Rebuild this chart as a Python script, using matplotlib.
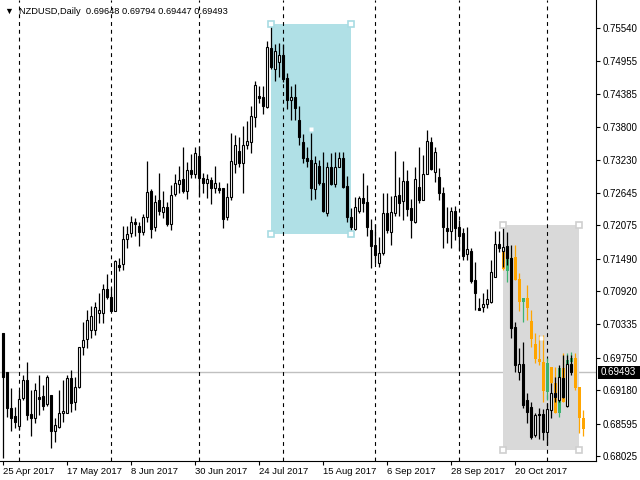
import matplotlib
matplotlib.use("Agg")
import matplotlib.pyplot as plt
import matplotlib.transforms as mtrans
from matplotlib.patches import Rectangle

plt.rcParams['font.family'] = ['Liberation Sans', 'DejaVu Sans']

# NZDUSD daily bars, bar 0 = 25 Apr 2017
o = [0.7019, 0.6950, 0.6887, 0.6873, 0.6855, 0.6904, 0.6936, 0.6876, 0.6869, 0.6906,
     0.6908, 0.6894, 0.6910, 0.6846, 0.6853, 0.6878, 0.6878, 0.6939, 0.6897, 0.6924,
     0.6994, 0.7008, 0.7024, 0.7024, 0.7054, 0.7054, 0.7096, 0.7082, 0.7057, 0.7138,
     0.7140, 0.7184, 0.7194, 0.7213, 0.7206, 0.7196, 0.7222, 0.7268, 0.7205, 0.7252,
     0.7231, 0.7240, 0.7210, 0.7263, 0.7280, 0.7289, 0.7268, 0.7305, 0.7298, 0.7329,
     0.7291, 0.7282, 0.7287, 0.7273, 0.7273, 0.7273, 0.7222, 0.7257, 0.7315, 0.7338,
     0.7317, 0.7349, 0.7354, 0.7398, 0.7435, 0.7433, 0.7415, 0.7519, 0.7482, 0.7494,
     0.7507, 0.7466, 0.7428, 0.7433, 0.7392, 0.7354, 0.7326, 0.7322, 0.7271, 0.7312,
     0.7282, 0.7229, 0.7310, 0.7280, 0.7310, 0.7326, 0.7277, 0.7222, 0.7201, 0.7233,
     0.7256, 0.7248, 0.7199, 0.7173, 0.7141, 0.7159, 0.7229, 0.7196, 0.7229, 0.7261,
     0.7250, 0.7285, 0.7238, 0.7213, 0.7275, 0.7252, 0.7298, 0.7354, 0.7301, 0.7292,
     0.7264, 0.7203, 0.7198, 0.7233, 0.7205, 0.7194, 0.7157, 0.7162, 0.7112, 0.7062,
     0.7064, 0.7069, 0.7073, 0.7117, 0.7175, 0.7162, 0.7171, 0.7150, 0.7029, 0.6950,
     0.6964, 0.6901, 0.6889, 0.6839, 0.6876, 0.6876, 0.6845, 0.6883, 0.6913, 0.6901,
     0.6939, 0.6890, 0.69648]
h = [0.7019, 0.6950, 0.6922, 0.6889, 0.6918, 0.6945, 0.6968, 0.6918, 0.6931, 0.6945,
     0.6927, 0.6945, 0.6910, 0.6869, 0.6918, 0.6936, 0.6945, 0.6954, 0.6941, 0.6994,
     0.7038, 0.7059, 0.7066, 0.7073, 0.7089, 0.7105, 0.7122, 0.7098, 0.7147, 0.7150,
     0.7206, 0.7206, 0.7224, 0.7220, 0.7213, 0.7227, 0.7320, 0.7271, 0.7261, 0.7299,
     0.7268, 0.7248, 0.7278, 0.7298, 0.7312, 0.7345, 0.7319, 0.7333, 0.7345, 0.7347,
     0.7299, 0.7298, 0.7292, 0.7312, 0.7284, 0.7273, 0.7282, 0.7370, 0.7366, 0.7363,
     0.7382, 0.7391, 0.7417, 0.7461, 0.7452, 0.7452, 0.7531, 0.7559, 0.7526, 0.7528,
     0.7526, 0.7475, 0.7452, 0.7456, 0.7417, 0.7368, 0.7345, 0.7370, 0.7329, 0.7322,
     0.7336, 0.7319, 0.7335, 0.7336, 0.7336, 0.7336, 0.7294, 0.7238, 0.7257, 0.7259,
     0.7299, 0.7278, 0.7219, 0.7210, 0.7187, 0.7264, 0.7264, 0.7259, 0.7338, 0.7292,
     0.7320, 0.7305, 0.7254, 0.7310, 0.7345, 0.7331, 0.7375, 0.7363, 0.7345, 0.7308,
     0.7275, 0.7240, 0.7240, 0.7242, 0.7217, 0.7203, 0.7205, 0.7168, 0.7143, 0.7080,
     0.7089, 0.7096, 0.7147, 0.7198, 0.7198, 0.7208, 0.7196, 0.7173, 0.7038, 0.6992,
     0.7003, 0.6913, 0.6897, 0.6878, 0.6887, 0.6885, 0.6896, 0.6931, 0.6941, 0.6962,
     0.6980, 0.6980, 0.69794]
l = [0.6799, 0.6871, 0.6846, 0.6852, 0.6848, 0.6901, 0.6866, 0.6838, 0.6860, 0.6875,
     0.6883, 0.6890, 0.6817, 0.6827, 0.6852, 0.6862, 0.6878, 0.6880, 0.6883, 0.6922,
     0.6980, 0.6992, 0.7010, 0.7015, 0.7036, 0.7036, 0.7078, 0.7057, 0.7057, 0.7127,
     0.7129, 0.7168, 0.7187, 0.7189, 0.7171, 0.7191, 0.7213, 0.7185, 0.7198, 0.7226,
     0.7220, 0.7206, 0.7199, 0.7259, 0.7264, 0.7264, 0.7254, 0.7291, 0.7291, 0.7257,
     0.7264, 0.7256, 0.7245, 0.7264, 0.7264, 0.7203, 0.7217, 0.7252, 0.7299, 0.7310,
     0.7264, 0.7342, 0.7335, 0.7380, 0.7422, 0.7403, 0.7414, 0.7482, 0.7461, 0.7468,
     0.7459, 0.7412, 0.7392, 0.7392, 0.7349, 0.7317, 0.7310, 0.7252, 0.7254, 0.7278,
     0.7231, 0.7224, 0.7278, 0.7275, 0.7310, 0.7273, 0.7213, 0.7192, 0.7199, 0.7229,
     0.7231, 0.7189, 0.7133, 0.7141, 0.7134, 0.7155, 0.7194, 0.7173, 0.7224, 0.7224,
     0.7217, 0.7224, 0.7185, 0.7212, 0.7247, 0.7252, 0.7298, 0.7305, 0.7284, 0.7252,
     0.7168, 0.7177, 0.7168, 0.7182, 0.7164, 0.7147, 0.7147, 0.7106, 0.7059, 0.7059,
     0.7055, 0.7062, 0.7071, 0.7117, 0.7161, 0.7134, 0.7138, 0.7010, 0.6950, 0.6936,
     0.6887, 0.6860, 0.6832, 0.6836, 0.6832, 0.6831, 0.6822, 0.6869, 0.6897, 0.6897,
     0.6904, 0.6889, 0.69447]
c = [0.6941, 0.6887, 0.6869, 0.6862, 0.6903, 0.6936, 0.6875, 0.6869, 0.6918, 0.6903,
     0.6890, 0.6941, 0.6846, 0.6857, 0.6878, 0.6882, 0.6939, 0.6896, 0.6924, 0.6994,
     0.7006, 0.7041, 0.7048, 0.7064, 0.7059, 0.7096, 0.7082, 0.7057, 0.7145, 0.7134,
     0.7184, 0.7192, 0.7213, 0.7210, 0.7196, 0.7222, 0.7266, 0.7201, 0.7248, 0.7233,
     0.7240, 0.7210, 0.7261, 0.7282, 0.7287, 0.7268, 0.7305, 0.7298, 0.7335, 0.7291,
     0.7282, 0.7289, 0.7273, 0.7282, 0.7270, 0.7219, 0.7257, 0.7320, 0.7349, 0.7317,
     0.7349, 0.7356, 0.7400, 0.7454, 0.7431, 0.7417, 0.7521, 0.7486, 0.7514, 0.7507,
     0.7464, 0.7428, 0.7433, 0.7414, 0.7363, 0.7326, 0.7320, 0.7273, 0.7317, 0.7282,
     0.7233, 0.7310, 0.7280, 0.7310, 0.7326, 0.7275, 0.7222, 0.7205, 0.7240, 0.7256,
     0.7247, 0.7205, 0.7171, 0.7155, 0.7159, 0.7229, 0.7199, 0.7231, 0.7259, 0.7247,
     0.7285, 0.7236, 0.7217, 0.7289, 0.7252, 0.7298, 0.7356, 0.7306, 0.7336, 0.7264,
     0.7205, 0.7198, 0.7233, 0.7203, 0.7189, 0.7154, 0.7166, 0.7110, 0.7089, 0.7059,
     0.7069, 0.7078, 0.7126, 0.7175, 0.7168, 0.7170, 0.7150, 0.7027, 0.6962, 0.6964,
     0.6892, 0.6880, 0.6836, 0.6875, 0.6875, 0.6845, 0.6885, 0.6913, 0.6906, 0.6941,
     0.6906, 0.6964, 0.69493]

# projected bars (orange = down, green = up), starting at bar 125
proj_start = 125
po = [0.7162, 0.7127, 0.7143, 0.7152, 0.7113, 0.7073, 0.7080, 0.7040, 0.6999, 0.6973,
      0.6968, 0.6915, 0.6959, 0.6931, 0.6878, 0.6957, 0.6927, 0.6968, 0.6975, 0.6924, 0.6869]
ph = [0.7170, 0.7152, 0.7152, 0.7173, 0.7124, 0.7080, 0.7103, 0.7059, 0.7019, 0.7015,
      0.7015, 0.6975, 0.6959, 0.6959, 0.6957, 0.6983, 0.6983, 0.6985, 0.6983, 0.6924, 0.6883]
pl = [0.7129, 0.7108, 0.7105, 0.7112, 0.7057, 0.7038, 0.7041, 0.6994, 0.6966, 0.6962,
      0.6897, 0.6901, 0.6927, 0.6878, 0.6871, 0.6897, 0.6924, 0.6962, 0.6918, 0.6843, 0.6838]
pc = [0.7131, 0.7152, 0.7150, 0.7112, 0.7073, 0.7080, 0.7062, 0.7008, 0.6973, 0.6968,
      0.6917, 0.6966, 0.6931, 0.6878, 0.6957, 0.6897, 0.6971, 0.6975, 0.6922, 0.6869, 0.6850]

date_labels = ['25 Apr 2017', '17 May 2017', '8 Jun 2017', '30 Jun 2017', '24 Jul 2017',
               '15 Aug 2017', '6 Sep 2017', '28 Sep 2017', '20 Oct 2017']
date_bars = [0, 16, 32, 48, 64, 80, 96, 112, 128]
month_bars = [4, 27, 49, 70, 93, 114, 136]   # first bar of each month
price_ticks = [0.75540, 0.74955, 0.74385, 0.73800, 0.73230, 0.72645, 0.72075,
               0.71490, 0.70920, 0.70335, 0.69750, 0.69180, 0.68595, 0.68025]

# rectangles drawn on the chart: bar from, bar to, price top, price bottom
blue_box = (67, 87, 0.7561, 0.7192)
gray_box = (125, 144, 0.7208, 0.6813)

fig = plt.figure(figsize=(6.4, 4.8), dpi=100)
ax = fig.add_axes([0, 19 / 480, 596 / 640, 461 / 480])
ax.set_xlim(-0.825, 148.175)
ax.set_ylim(0.67938, 0.76032)


def draw_bars(x0, o, h, l, c, up_fc, up_ec, dn_fc, dn_ec, w, z, edge=True):
    for i in range(len(o)):
        x = x0 + i
        up = c[i] >= o[i]
        ec = up_ec if up else dn_ec
        fc = up_fc if up else dn_fc
        ax.plot([x, x], [l[i], h[i]], color=ec, lw=0.9, zorder=z, solid_capstyle='butt')
        lo, hi = min(o[i], c[i]), max(o[i], c[i])
        ax.add_patch(Rectangle((x - w / 2, lo), w, hi - lo, facecolor=fc,
                               edgecolor=ec if edge else 'none', lw=0.8 if edge else 0,
                               zorder=z + 0.1))


# boxes
for box, col, hcol in [(blue_box, '#B0E0E6', '#A8DCE3'), (gray_box, '#D9D9D9', '#CFCFCF')]:
    x1, x2, top, bot = box
    ax.add_patch(Rectangle((x1, bot), x2 - x1, top - bot, facecolor=col, edgecolor='none', zorder=0.5))
    ax.plot([x1, x2, x1, x2], [top, top, bot, bot], ls='none', marker='s', ms=4.5,
            mfc='white', mec=hcol, mew=1.2, zorder=4, clip_on=False)
    ax.plot([(x1 + x2) / 2], [(top + bot) / 2], ls='none', marker='s', ms=3.5,
            mfc='white', mec='none', zorder=4)

# current price line
ax.axhline(c[-1], color='#C0C0C0', lw=1, zorder=0.4)

# month separators
for b in month_bars:
    ax.axvline(b, color='black', lw=0.8, ls=(0, (3.5, 3.5)), zorder=1)

draw_bars(proj_start, po, ph, pl, pc, '#3CB371', '#3CB371', '#FFA500', '#FFA500', 0.85, 2, edge=False)
draw_bars(0, o, h, l, c, 'white', 'black', 'black', 'black', 0.5, 3)

# axes styling
for s in ['top', 'left']:
    ax.spines[s].set_visible(False)
for s in ['right', 'bottom']:
    ax.spines[s].set_linewidth(0.8)
ax.yaxis.tick_right()
ax.set_yticks(price_ticks)
ax.set_yticklabels(['%.5f' % p for p in price_ticks])
ax.tick_params(axis='y', length=3, width=0.8, pad=2, labelsize=7.0)
ax.set_xticks(date_bars)
ax.set_xticklabels(date_labels, ha='left')
ax.tick_params(axis='x', length=3, width=0.8, pad=1, labelsize=6.8)

# last price tag
tr = mtrans.blended_transform_factory(fig.transFigure, ax.transData)
ax.add_patch(Rectangle((598 / 640, c[-1] - 0.00115), 42 / 640, 0.0023, transform=tr,
                       facecolor='black', edgecolor='none', clip_on=False, zorder=5))
ax.text(601 / 640, c[-1], '%.5f' % c[-1], transform=tr, color='white', fontsize=7.0,
        va='center', ha='left', zorder=6)

# header
fig.text(9 / 640, 1 - 11 / 480, '\u25bc', fontsize=6.5, va='center', ha='center')
fig.text(19 / 640, 1 - 11 / 480, 'NZDUSD,Daily  %.5f %.5f %.5f %.5f' % (o[-1], h[-1], l[-1], c[-1]),
         fontsize=6.7, va='center', ha='left')

fig.savefig('out.png', dpi=100)
